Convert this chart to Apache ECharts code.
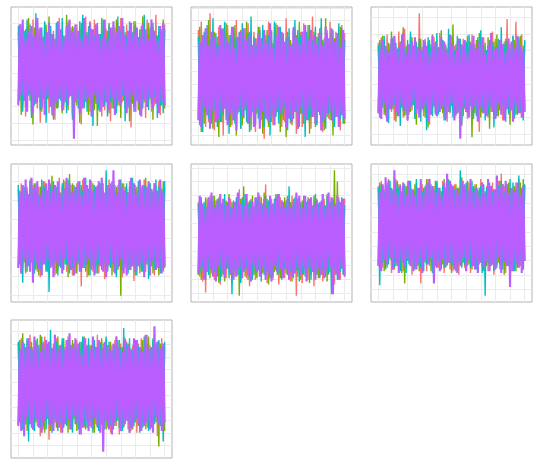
<!DOCTYPE html>
<html><head><meta charset="utf-8">
<script src="https://cdn.jsdelivr.net/npm/echarts@6/dist/echarts.min.js"></script>
<style>html,body{margin:0;padding:0;background:#fff}#c{width:540px;height:470px}</style>
</head><body><div id="c"></div>
<script>
// ---- data: local extremes of each trace (index = time step) ----
const p1Red=[22,-19,27,-24,18,-31,25,-17,21,-28,30,-22,19,-26,24,-35,20,-18,28,-23,17,-29,26,-21,23,-33,19,-25,31,-20,22,-27,18,-24,29,-19,25,-30,21,-22,27,-18,24,-36,20,-26,32,-21,18,-28,23,-25,30,-19,26,-23,21,-31,19,-27,24,-20,28,-34,22,-18,25,-29,17,-24,31,-22,20,-26,27,-19,23,-38,21,-25,29,-20,18,-27,26,-23,22,-32,30,-21,19,-28,25,-24,33,-18,20,-30,24,-22,27];
const p1Green=[-23,20,-30,26,-19,24,-27,31,-21,18,-36,25,-22,29,-18,22,-28,19,-25,27,-20,32,-24,21,-33,18,-26,28,-19,23,-29,20,-22,33,-27,24,-18,26,-31,21,-24,19,-35,28,-21,25,-19,22,-30,29,-23,18,-27,24,-37,20,-25,31,-22,26,-19,23,-29,21,-26,27,-20,30,-24,19,-32,25,-21,22,-28,18,-34,26,-23,29,-18,21,-27,24,-30,32,-22,19,-25,28,-20,26,-33,23,-19,20,-28,25,-24,30,-26];
const p1Cyan=[26,-21,19,-28,23,-25,30,-18,27,-32,20,-24,34,-22,18,-27,25,-20,29,-35,22,-19,26,-30,21,-23,28,-26,18,-21,31,-24,20,-29,27,-18,23,-33,25,-22,19,-26,29,-21,33,-25,22,-28,26,-19,24,-37,20,-23,28,-27,21,-20,30,-24,18,-31,27,-22,25,-26,19,-29,32,-21,23,-18,26,-34,20,-25,29,-23,22,-28,27,-21,19,-30,24,-26,33,-20,21,-27,25,-23,28,-19,20,-32,26,-24,22,-29,24];
const p1Purple=[-24,27,-18,30,-21,19,-28,23,-17,26,-29,20,-23,31,-19,25,-26,18,-30,22,-18,28,-25,21,-31,17,-22,29,-20,24,-27,19,-21,26,-24,30,-18,22,-45,27,-20,23,-29,18,-26,31,-22,20,-19,28,-31,24,-17,27,-23,21,-28,19,-25,30,-22,18,-27,25,-19,29,-30,22,-21,26,-24,31,-18,20,-29,23,-26,28,-17,21,-28,25,-22,19,-31,27,-20,24,-25,18,-19,30,-26,22,-23,17,-29,26,-21,28,-24];

const p2Red=[28,-22,33,-19,24,-30,21,-27,38,-20,25,-32,19,-24,30,-21,27,-35,22,-18,31,-26,20,-29,24,-23,34,-20,26,-31,19,-25,29,-22,32,-28,21,-19,27,-33,23,-21,30,-26,18,-37,25,-24,33,-20,28,-29,22,-23,31,-19,26,-30,20,-27,35,-22,24,-28,19,-25,29,-34,23,-21,27,-30,32,-20,25,-26,21,-31,36,-24,20,-28,26,-22,30,-33,23,-19,28,-25,33,-21,22,-29,27,-24,19,-32,31,-23,26];
const p2Green=[-25,30,-33,21,-28,26,-20,34,-24,19,-31,27,-22,24,-36,20,-27,29,-19,32,-23,25,-30,18,-26,31,-35,22,-21,28,-29,24,-20,33,-25,27,-32,19,-28,23,-22,30,-26,21,-34,25,-19,28,-30,26,-27,20,-23,32,-21,29,-33,24,-26,18,-36,27,-24,22,-29,30,-20,25,-31,33,-22,19,-28,26,-25,31,-34,21,-23,27,-30,24,-19,29,-27,22,-32,35,-24,20,-26,28,-35,23,-21,26,-29,30,-22,25,-28];
const p2Cyan=[24,-29,20,-33,27,-21,31,-25,22,-28,35,-20,26,-30,19,-27,29,-23,33,-26,21,-34,25,-19,30,-28,23,-22,27,-31,32,-24,20,-27,26,-33,36,-21,24,-29,19,-25,28,-22,31,-30,22,-26,25,-35,27,-20,33,-24,21,-28,30,-23,26,-19,23,-32,29,-27,20,-25,34,-21,28,-30,25,-22,19,-36,27,-26,31,-24,22,-20,30,-29,24,-23,35,-27,21,-31,26,-22,20,-26,28,-30,23,-19,32,-25,29,-28,22];
const p2Purple=[-26,21,-30,25,-18,29,-23,19,-31,27,-20,24,-27,18,-25,31,-21,28,-19,23,-29,20,-22,30,-26,17,-32,24,-20,27,-23,29,-18,22,-28,25,-24,19,-30,21,-19,26,-31,23,-21,28,-25,20,-27,32,-24,18,-29,25,-20,30,-22,27,-18,21,-30,23,-25,19,-27,29,-21,24,-31,20,-18,27,-23,31,-26,22,-19,28,-24,25,-28,20,-21,26,-32,19,-25,30,-22,23,-20,29,-27,21,-24,26,-30,18,-23,28,-25];

const p3Red=[25,-22,29,-19,23,-27,31,-21,20,-24,27,-30,22,-18,33,-25,21,-28,35,-20,24,-26,30,-23,19,-29,26,-21,46,-24,22,-27,28,-20,25,-33,21,-22,29,-26,20,-23,32,-19,27,-28,24,-31,22,-25,30,-21,23,-27,26,-24,19,-34,28,-22,25,-29,21,-20,31,-26,24,-23,27,-38,22,-25,29,-21,20,-28,26,-24,33,-19,28,-27,23,-22,25,-30,26,-20,42,-26,24,-23,30,-29,40,-21,27,-25,31,-24,26];
const p3Green=[-24,27,-20,30,-26,22,-29,25,-19,33,-22,28,-31,20,-25,26,-21,36,-27,23,-30,21,-24,29,-19,25,-33,22,-26,28,-21,24,-28,20,-35,27,-23,31,-20,26,-27,22,-19,34,-25,23,-30,21,-24,29,-20,38,-26,24,-22,28,-31,20,-27,25,-23,30,-21,26,-42,22,-25,27,-19,32,-28,21,-24,25,-22,29,-36,23,-20,26,-25,31,-27,20,-23,24,-29,28,-21,22,-33,25,-20,27,-26,21,-24,30,-28,23,-22];
const p3Cyan=[23,-28,26,-21,30,-25,20,-32,24,-22,29,-19,25,-27,22,-34,31,-23,21,-26,27,-24,33,-20,23,-29,25,-22,28,-31,20,-23,26,-37,29,-21,24,-27,22,-25,32,-26,21,-22,27,-30,23,-19,35,-24,25,-28,20,-26,30,-23,28,-33,22,-21,26,-25,31,-20,24,-29,21,-27,29,-22,34,-24,23,-30,20,-26,27,-21,25,-35,22,-27,28,-23,36,-20,24,-31,26,-25,21,-22,30,-28,23,-26,29,-24,20,-30,27];
const p3Purple=[-25,20,-29,27,-18,23,-31,19,-22,28,-20,30,-24,21,-27,25,-19,32,-23,18,-30,24,-21,26,-17,29,-25,22,-28,20,-22,27,-19,23,-31,18,-26,30,-20,25,-27,21,-24,29,-20,26,-29,19,-23,31,-18,23,-30,20,-25,28,-43,24,-21,27,-24,19,-28,25,-22,30,-19,21,-31,26,-21,29,-25,18,-27,23,-20,32,-24,20,-29,22,-18,27,-26,24,-30,19,-22,28,-23,26,-31,21,-19,30,-25,23,-28,20,-24];

const p4Red=[21,-19,24,-22,18,-25,22,-20,26,-18,23,-21,19,-24,22,-27,20,-19,25,-23,18,-22,24,-20,21,-26,19,-23,27,-21,22,-18,25,-24,20,-21,23,-26,19,-25,24,-20,21,-32,26,-19,22,-27,18,-22,25,-24,20,-21,23,-25,19,-20,24,-28,21,-23,26,-19,22,-24,20,-26,23,-21,19,-27,24,-22,21,-20,25,-23,18,-29,23,-21,20,-25,22,-19,26,-24,21,-22,24,-20,19,-26,23,-22,25,-21,20,-24,22];
const p4Green=[-22,20,-25,23,-19,21,-24,18,-21,26,-20,24,-23,19,-26,22,-21,25,-18,23,-24,21,-19,28,-22,20,-25,23,-21,19,-23,26,-20,22,-27,29,-19,24,-22,21,-25,19,-21,23,-20,25,-24,22,-26,20,-19,24,-23,21,-25,22,-20,26,-22,18,-24,23,-21,20,-26,25,-19,22,-23,21,-37,24,-20,22,-25,19,-23,26,-21,20,-26,22,-19,25,-24,21,-22,27,-20,23,-21,19,-25,24,-23,20,-26,22,-19,25,-22];
const p4Cyan=[23,-20,19,-30,22,-24,20,-21,25,-19,21,-25,24,-22,18,-23,26,-20,22,-24,20,-35,23,-21,25,-19,22,-26,19,-22,24,-23,21,-20,26,-25,19,-22,23,-21,22,-19,25,-24,20,-22,27,-20,21,-26,19,-21,23,-25,22,-20,24,-23,20,-19,31,-24,21,-22,25,-20,23,-27,19,-21,26,-23,20,-19,24,-25,22,-21,27,-20,21,-26,25,-22,19,-24,23,-20,22,-28,24,-21,20,-23,26,-19,22,-25,21,-23,25];
const p4Purple=[-22,19,-25,23,-17,26,-21,18,-24,27,-30,22,-19,25,-23,17,-26,21,-20,24,-18,26,-22,20,-27,23,-19,25,-21,18,-25,21,-17,27,-20,24,-23,19,-26,22,-19,25,-24,18,-22,27,-20,23,-17,26,-23,20,-26,22,-18,25,-21,27,-24,19,-27,23,-20,24,-19,31,-25,18,-22,26,-17,22,-25,20,-26,19,-23,27,-21,24,-24,18,-21,26,-20,23,-27,22,-19,25,-26,21,-18,24,-23,20,-22,26,-25,19,-21];

const p5Red=[22,-25,20,-28,19,-35,24,-21,26,-23,20,-27,23,-19,25,-30,21,-24,22,-26,19,-22,24,-29,21,-25,23,-20,30,-28,25,-21,20,-26,22,-31,24,-23,19,-27,23,-20,26,-24,21,-22,33,-29,20,-25,24,-27,19,-21,22,-30,25,-23,21,-26,20,-24,23,-28,26,-22,19,-37,24,-21,22,-29,25,-20,21,-27,23,-24,20,-31,26,-23,19,-25,22,-28,24,-21,27,-24,21,-26,23,-30,20,-22,25,-27,22,-23,24];
const p5Green=[-24,21,-27,19,-22,25,-20,23,-26,20,-23,26,-21,24,-29,22,-25,20,-28,23,-20,27,-24,22,-26,21,-23,25,-37,24,-22,32,-25,20,-27,23,-21,26,-24,19,-26,22,-20,25,-23,28,-21,24,-30,21,-25,20,-22,27,-24,21,-26,23,-20,25,-23,26,-21,22,-28,24,-20,27,-25,21,-27,23,-24,20,-22,25,-29,22,-21,26,-20,24,-26,21,-23,27,-25,20,-28,23,-22,25,-21,42,-24,35,-27,22,-20,24,-23];
const p5Cyan=[21,-23,25,-20,22,-27,19,-24,23,-21,26,-22,20,-25,24,-28,21,-23,27,-20,22,-26,19,-36,23,-21,25,-24,20,-29,24,-22,27,-20,21,-25,23,-27,19,-23,25,-21,22,-28,20,-24,26,-22,23,-26,20,-25,24,-21,27,-23,19,-27,22,-20,23,-24,32,-22,20,-26,25,-21,24,-28,21,-23,26,-25,22,-20,24,-27,19,-22,27,-24,21,-26,23,-21,20,-25,26,-23,22,-36,24,-20,21,-27,23,-22,25,-24,20];
const p5Purple=[-23,26,-19,21,-27,18,-22,25,-20,28,-25,19,-28,23,-18,27,-21,24,-26,20,-19,25,-23,18,-27,22,-25,28,-20,21,-26,20,-21,27,-24,19,-28,22,-18,25,-22,28,-25,21,-19,24,-27,18,-23,26,-28,21,-18,25,-22,27,-20,23,-26,19,-20,24,-27,19,-25,22,-23,28,-19,26,-24,18,-21,26,-28,23,-19,25,-22,20,-27,23,-20,22,-24,27,-26,19,-21,28,-19,25,-36,20,-23,26,-27,22,-20,24,-25];

const p6Red=[23,-20,26,-24,21,-22,25,-19,22,-27,20,-25,27,-21,24,-23,19,-26,22,-24,26,-21,23,-28,20,-24,25,-22,21,-33,24,-19,22,-26,27,-23,20,-25,23,-21,25,-24,21,-20,26,-27,22,-23,19,-25,22,-26,24,-21,20,-28,23,-22,26,-24,21,-23,25,-27,22,-20,24,-25,20,-22,27,-24,19,-21,23,-26,22,-23,25,-28,20,-22,26,-25,30,-21,23,-27,24,-20,22,-26,21,-24,25,-22,27,-23,20,-25,23];
const p6Green=[-22,25,-20,23,-26,21,-24,27,-19,22,-25,20,-23,26,-21,24,-27,22,-33,23,-20,26,-22,21,-25,24,-23,20,-26,25,-24,22,-21,27,-20,23,-26,21,-24,26,-23,21,-25,20,-22,27,-24,23,-21,25,-27,23,-20,24,-26,22,-23,28,-21,20,-24,26,-22,21,-25,23,-20,24,-27,22,-21,25,-26,20,-23,27,-24,22,-22,21,-25,23,-21,26,-20,24,-28,21,-23,25,-22,20,-24,23,-26,22,-21,25,-23,27,-20];
const p6Cyan=[22,-34,24,-21,20,-25,23,-22,26,-20,21,-24,25,-23,22,-26,20,-21,24,-27,23,-22,26,-20,21,-25,27,-23,22,-24,20,-26,23,-22,25,-21,24,-27,21,-23,26,-20,22,-25,23,-24,20,-22,27,-21,24,-23,21,-26,22,-20,32,-24,23,-22,25,-21,20,-24,26,-23,22,-25,21,-20,23,-27,24,-40,22,-21,25,-23,20,-26,21,-24,23,-22,26,-25,20,-21,24,-23,27,-22,25,-26,21,-24,29,-20,22,-25,24];
const p6Purple=[-23,20,-26,24,-19,28,-22,26,-18,21,-25,32,-21,19,-27,23,-20,25,-24,18,-19,26,-23,21,-26,18,-25,22,-21,27,-27,19,-20,24,-22,27,-18,23,-33,20,-24,22,-26,18,-19,25,-23,30,-21,26,-20,23,-25,21,-27,19,-22,26,-18,24,-26,21,-19,27,-23,20,-25,22,-27,18,-21,25,-24,19,-20,27,-26,23,-22,21,-25,29,-18,22,-27,24,-20,26,-23,19,-35,22,-26,20,-21,25,-24,18,-27,23,-20];

const p7Red=[24,-21,27,-25,20,-23,26,-22,29,-20,22,-27,25,-24,21,-30,23,-26,28,-21,20,-32,26,-23,24,-22,27,-25,21,-28,25,-24,22,-20,28,-26,23,-27,20,-23,26,-22,24,-29,21,-25,27,-21,23,-24,22,-26,20,-23,29,-27,25,-22,24,-20,27,-25,21,-28,23,-21,26,-24,22,-29,24,-23,28,-20,25,-26,21,-27,23,-22,20,-28,24,-25,27,-22,22,-26,29,-21,23,-24,26,-22,21,-30,25,-23,27,-25,22];
const p7Green=[-23,26,-20,30,-25,22,-27,24,-21,25,-26,23,-22,27,-24,29,-21,25,-28,22,-20,24,-27,21,-23,26,-25,28,-22,20,-25,27,-21,23,-28,22,-24,26,-20,25,-27,21,-23,25,-22,28,-26,20,-24,23,-21,26,-28,22,-25,24,-20,27,-23,21,-26,23,-22,25,-27,20,-24,28,-21,26,-23,22,-25,27,-20,24,-28,21,-26,23,-22,25,-24,20,-27,26,-21,23,-25,28,-24,21,-26,23,-22,25,-36,24,-20,22,-27];
const p7Cyan=[25,-22,21,-26,24,-23,27,-33,22,-25,20,-27,26,-21,23,-25,28,-24,21,-26,24,-23,32,-28,22,-20,25,-27,23,-22,27,-25,20,-24,26,-21,23,-28,24,-23,21,-26,25,-22,28,-24,20,-25,27,-21,23,-28,26,-20,22,-27,24,-23,21,-26,28,-22,25,-24,20,-26,23,-21,26,-25,22,-27,33,-23,24,-21,27,-25,20,-24,26,-20,23,-28,21,-25,28,-22,24,-27,21,-25,27,-23,24,-21,26,-24,22,-33,25];
const p7Purple=[-24,20,-27,25,-30,22,-19,27,-23,21,-26,28,-20,23,-25,19,-28,24,-21,26,-19,25,-24,21,-27,29,-22,20,-25,23,-28,21,-23,26,-20,30,-26,22,-18,27,-22,24,-29,18,-25,27,-21,23,-27,20,-25,28,-19,22,-24,26,-28,21,-39,25,-21,23,-26,20,-29,24,-22,28,-19,22,-27,19,-24,26,-21,23,-28,20,-25,27,-20,26,-23,22,-27,19,-24,29,-22,21,-26,22,-28,34,-19,25,-23,21,-27,24,-22];

const panelSeries = [
  [p1Red,p1Green,p1Cyan,p1Purple],
  [p2Red,p2Green,p2Cyan,p2Purple],
  [p3Red,p3Green,p3Cyan,p3Purple],
  [p4Red,p4Green,p4Cyan,p4Purple],
  [p5Red,p5Green,p5Cyan,p5Purple],
  [p6Red,p6Green,p6Cyan,p6Purple],
  [p7Red,p7Green,p7Cyan,p7Purple]
];

// ---- layout & style ----
const colors = ['#F8766D','#7CAE00','#00BFC4','#BA5EFF'];
const widths = [1.4,1.4,1.4,2.1];
const colLeft = [11,191,371], rowTop = [7,164,320];
const PW = 161, PH = 138;
// range of the background-grid axis per panel (in grid-line steps)
const gridAxisRange = [[-0.30,7.96],[-0.76,10.08],[-0.66,7.62],[-0.37,6.94],[-0.62,9.27],[-0.88,8.72],[-0.97,9.92]];
const gridColor = '#ebebeb';

const grids=[], xAxes=[], yAxes=[], series=[];
panelSeries.forEach((group,i)=>{
  const n = group[0].length - 1;
  grids.push({left:colLeft[i%3], top:rowTop[Math.floor(i/3)], width:PW, height:PH,
    show:true, backgroundColor:'#ffffff', borderColor:'#b3b3b3', borderWidth:1,
    containLabel:false, outerBoundsMode:'none'});
  xAxes.push({gridIndex:i, type:'value', min:-0.05*n, max:1.05*n, splitNumber:11,
    axisLine:{show:false}, axisTick:{show:false}, axisLabel:{show:false},
    splitLine:{show:true, showMinLine:false, showMaxLine:false, lineStyle:{color:gridColor,width:1}}});
  // data axis (ggplot-like 5% expansion)
  yAxes.push({gridIndex:i, type:'value', scale:true,
    min:v=>v.min-(v.max-v.min)*0.05, max:v=>v.max+(v.max-v.min)*0.05,
    axisLine:{show:false}, axisTick:{show:false}, axisLabel:{show:false}, splitLine:{show:false}});
  // background grid axis
  const g = gridAxisRange[i];
  yAxes.push({gridIndex:i, type:'value', min:g[0], max:g[1], splitNumber:Math.round(g[1]-g[0]),
    position:'left',
    axisLine:{show:false}, axisTick:{show:false}, axisLabel:{show:false},
    splitLine:{show:true, showMinLine:false, showMaxLine:false, lineStyle:{color:gridColor,width:1}}});
  group.forEach((arr,k)=>{
    series.push({type:'line', xAxisIndex:i, yAxisIndex:2*i, symbol:'none', showSymbol:false,
      data:arr.map((v,j)=>[j,v]), lineStyle:{width:widths[k],color:colors[k]}, itemStyle:{color:colors[k]},
      silent:true, animation:false, z:3});
  });
});

const chart = echarts.init(document.getElementById('c'), null, {renderer:'canvas'});
chart.setOption({animation:false, backgroundColor:'#ffffff', grid:grids, xAxis:xAxes, yAxis:yAxes, series:series});
</script></body></html>
